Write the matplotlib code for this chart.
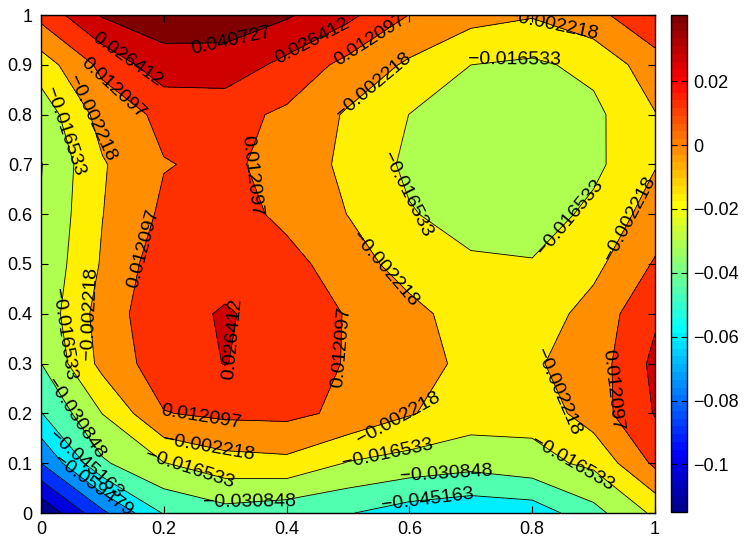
import numpy as np
import matplotlib
matplotlib.use("Agg")
import matplotlib.pyplot as plt
from matplotlib.colors import ListedColormap, Normalize
from matplotlib.cm import ScalarMappable

plt.rcParams["font.family"] = ["Liberation Sans", "DejaVu Sans"]

# grid (11 x 11 samples on the unit square)
x_vals = [0.0, 0.1, 0.2, 0.3, 0.4, 0.5, 0.6, 0.7, 0.8, 0.9, 1.0]
y_vals = [0.0, 0.1, 0.2, 0.3, 0.4, 0.5, 0.6, 0.7, 0.8, 0.9, 1.0]

# z values, one list per row (y = 0 ... 1)
z_y00 = [-0.1148, -0.077, -0.044, -0.036, -0.040, -0.0443, -0.052, -0.0556, -0.0536, -0.0355, -0.0137]
z_y01 = [-0.0738, -0.033, -0.017, -0.008, -0.006, -0.0174, -0.022, -0.0258, -0.0211, -0.0135, 0.0149]
z_y02 = [-0.0458, -0.0163, 0.0115, 0.015, 0.0156, 0.009, -0.0012, -0.0095, -0.012, 0.0050, 0.0273]
z_y03 = [-0.031, 0.002, 0.020, 0.0268, 0.020, 0.011, 0.004, -0.006, -0.004, 0.0045, 0.030]
z_y04 = [-0.026, 0.004, 0.0225, 0.0274, 0.0222, 0.011, 0.002, -0.0088, -0.0102, 0.0031, 0.024]
z_y05 = [-0.028, -0.0007, 0.0206, 0.0224, 0.0172, 0.0044, -0.0083, -0.0145, -0.0155, -0.006, 0.0135]
z_y06 = [-0.030, -0.0025, 0.0147, 0.019, 0.0084, -0.0025, -0.0155, -0.022, -0.024, -0.013, 0.004]
z_y07 = [-0.0315, -0.0035, 0.0115, 0.0144, 0.0078, -0.0059, -0.0194, -0.025, -0.026, -0.020, -0.0030]
z_y08 = [-0.0251, 0.0035, 0.0154, 0.0169, 0.0095, -0.004, -0.0167, -0.024, -0.025, -0.020, -0.0028]
z_y09 = [-0.0095, 0.0158, 0.0352, 0.035, 0.0224, 0.0077, -0.0045, -0.0165, -0.019, -0.0128, 0.006]
z_y10 = [0.0165, 0.042, 0.048, 0.048, 0.0425, 0.030, 0.0118, 0.003, -0.001, 0.0077, 0.024]

levels = [-0.102424, -0.088109, -0.073794, -0.059479, -0.045163, -0.030848,
          -0.016533, -0.002218, 0.012097, 0.026412, 0.040727]

cbar_ticks = [-0.1, -0.08, -0.06, -0.04, -0.02, 0.0, 0.02]
cbar_labels = ["\u22120.1", "\u22120.08", "\u22120.06", "\u22120.04", "\u22120.02", "0", "0.02"]
x_ticks = [0, 0.2, 0.4, 0.6, 0.8, 1]
x_labels = ["0", "0.2", "0.4", "0.6", "0.8", "1"]
y_ticks = [0, 0.1, 0.2, 0.3, 0.4, 0.5, 0.6, 0.7, 0.8, 0.9, 1]
y_labels = ["0", "0.1", "0.2", "0.3", "0.4", "0.5", "0.6", "0.7", "0.8", "0.9", "1"]

# where the contour labels sit (on the line they name), as in the original
label_spots = [
    (0.31, 0.95), (0.142, 0.913), (0.443, 0.946), (0.119, 0.853), (0.539, 0.945),
    (0.829, 0.965), (0.772, 0.906), (0.077, 0.79), (0.037, 0.765), (0.34, 0.675),
    (0.54, 0.86), (0.61, 0.645), (0.87, 0.585), (0.96, 0.59), (0.174, 0.528),
    (0.568, 0.50), (0.08, 0.40), (0.04, 0.36), (0.31, 0.35), (0.503, 0.333),
    (0.84, 0.243), (0.93, 0.247), (0.055, 0.19), (0.26, 0.19), (0.58, 0.20),
    (0.074, 0.10), (0.27, 0.12), (0.085, 0.056), (0.24, 0.08), (0.565, 0.11),
    (0.66, 0.077), (0.865, 0.10), (0.34, 0.026), (0.63, 0.02),
]


def matlab_jet(m=64):
    # same construction as MATLAB's jet(m)
    n = int(np.ceil(m / 4))
    u = np.concatenate([np.arange(1, n + 1) / n, np.ones(n - 1), np.arange(n, 0, -1) / n])
    g = int(np.ceil(n / 2)) - (m % 4 == 1) + np.arange(1, len(u) + 1)
    r = g + n
    b = g - n
    g = g[g <= m]
    r = r[r <= m]
    b = b[b >= 1]
    J = np.zeros((m, 3))
    J[r - 1, 0] = u[:len(r)]
    J[g - 1, 1] = u[:len(g)]
    J[b - 1, 2] = u[len(u) - len(b):]
    return J


def label_fmt(v):
    return f"{v:.6f}".replace("-", "\u2212")


def main():
    x = np.array(x_vals)
    y = np.array(y_vals)
    z = np.array([z_y00, z_y01, z_y02, z_y03, z_y04, z_y05,
                  z_y06, z_y07, z_y08, z_y09, z_y10])

    jet64 = matlab_jet(64)
    cmin = z.min()
    cmax = levels[-1]

    def level_color(v):
        k = int((v - cmin) / (cmax - cmin) * 64)
        return jet64[min(max(k, 0), 63)]

    fill_levels = [cmin - 1e-6] + levels + [z.max() + 1e-6]
    fill_colors = [level_color(v) for v in [cmin] + levels]

    fig = plt.figure(figsize=(7.44, 5.43), dpi=100)
    ax = fig.add_axes([41 / 744, 1 - 513 / 543, 614 / 744, 498 / 543])

    ax.contourf(x, y, z, levels=fill_levels, colors=fill_colors, antialiased=False)
    cs = ax.contour(x, y, z, levels=levels, colors="k", linewidths=0.6,
                    linestyles="solid")

    ax.set_xlim(0, 1)
    ax.set_ylim(0, 1)
    ax.set_xticks(x_ticks)
    ax.set_xticklabels(x_labels)
    ax.set_yticks(y_ticks)
    ax.set_yticklabels(y_labels)
    ax.tick_params(direction="in", top=True, right=True, length=5, width=0.8,
                   labelsize=13, pad=6)
    for s in ax.spines.values():
        s.set_linewidth(1.0)

    ax.clabel(cs, levels, fmt=label_fmt, inline=False, fontsize=14, colors="k",
              manual=label_spots)

    cax = fig.add_axes([670.7 / 744, 1 - 511.7 / 543, 16.6 / 744, 496.7 / 543])
    sm = ScalarMappable(norm=Normalize(cmin, cmax), cmap=ListedColormap(jet64))
    cb = fig.colorbar(sm, cax=cax, ticks=cbar_ticks)
    cb.ax.set_yticklabels(cbar_labels)
    cb.ax.tick_params(direction="in", left=True, right=True, length=4, width=0.8,
                      labelsize=13, pad=4)
    cb.outline.set_linewidth(1.0)

    fig.savefig("out.png", dpi=100)
    plt.close(fig)


if __name__ == "__main__":
    main()
